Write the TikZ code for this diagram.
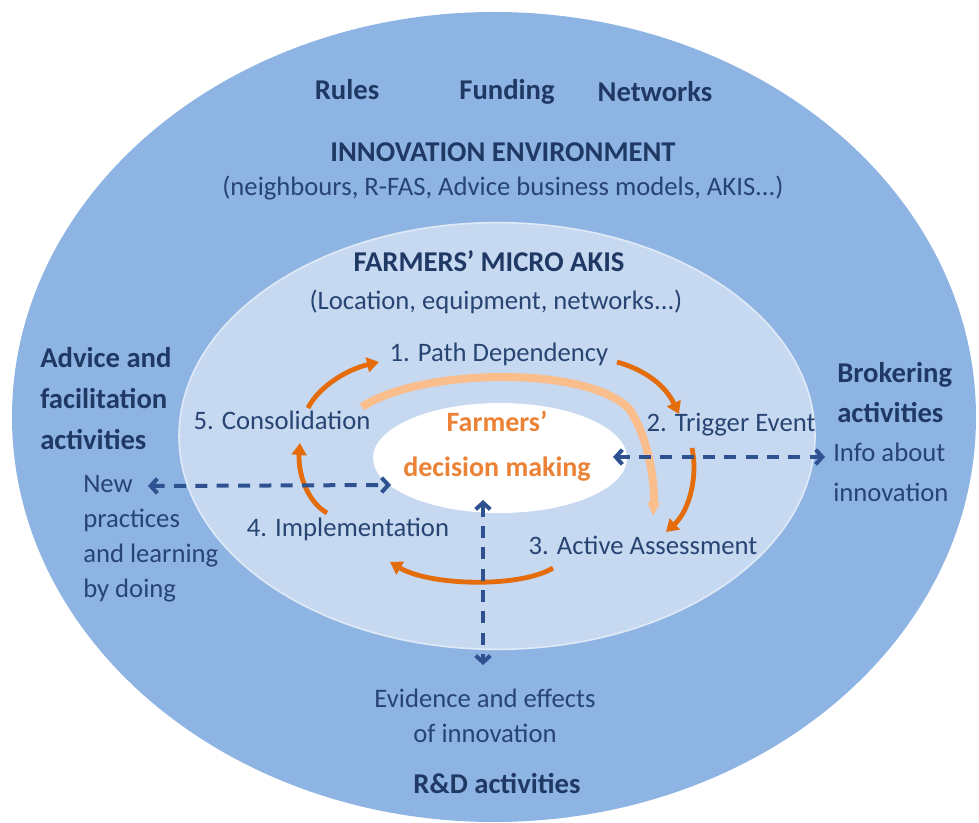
\documentclass[tikz,border=0pt]{standalone}
\usepackage{fontspec}
\setmainfont{Carlito}
\usetikzlibrary{shapes.geometric,arrows.meta}
\definecolor{outerblue}{HTML}{8EB4E3}
\definecolor{innerblue}{HTML}{C6D9F1}
\definecolor{txtbold}{HTML}{1F3864}
\definecolor{txtreg}{HTML}{274473}
\definecolor{dashblue}{HTML}{2E528F}
\definecolor{darkorange}{HTML}{E46C0A}
\definecolor{lightorange}{HTML}{F9BE8C}
\definecolor{orangetext}{HTML}{EC8236}
\tikzset{
  boldlbl/.style={inner sep=0pt, text=txtbold, font=\fontsize{21.5}{30.75}\selectfont\bfseries},
  reglbl/.style={inner sep=0pt, text=txtreg, font=\fontsize{20}{26.25}\selectfont},
  steplbl/.style={inner sep=0pt, text=txtreg, font=\fontsize{20}{26}\selectfont},
  cyclearrow/.style={draw=darkorange, line width=3.6pt, -{Triangle[length=9pt,width=11pt]}},
  bigarc/.style={draw=lightorange, line width=6pt, -{Triangle[length=10pt,width=9pt]}},
  dasharrow/.style={draw=dashblue, line width=3pt, dash pattern=on 9pt off 7pt,
     {Straight Barb[length=5pt,width=11pt]}-{Straight Barb[length=5pt,width=11pt]}},
}
\begin{document}
\begin{tikzpicture}[x=0.75pt, y=-0.75pt]
\useasboundingbox (0,0) rectangle (979,823);
% ellipses
\node[ellipse, fill=outerblue, inner sep=0pt, minimum width=723pt, minimum height=607.5pt] (outer) at (494,417) {};
\node[ellipse, fill=innerblue, draw=white!45!innerblue, line width=1.2pt, inner sep=0pt, minimum width=477pt, minimum height=320pt] (inner) at (497,436) {};
\node[ellipse, fill=white, inner sep=0pt, minimum width=190.5pt, minimum height=82.5pt] (core) at (500,458) {};

% top labels
\node[boldlbl, anchor=base] (rules) at (347,100) {Rules};
\node[boldlbl, anchor=base] (funding) at (507,100) {Funding};
\node[boldlbl, anchor=base] (networks) at (655,102) {Networks};
\node[boldlbl, anchor=base] (env) at (503,162) {INNOVATION ENVIRONMENT};
\node[reglbl, anchor=base] (envsub) at (503,196) {(neighbours, R-FAS, Advice business models, AKIS...)};
\node[boldlbl, anchor=base] (micro) at (489,272) {FARMERS’ MICRO AKIS};
\node[reglbl, anchor=base] (microsub) at (496,310) {(Location, equipment, networks...)};

% core text
\node[inner sep=0pt, text=orangetext, font=\fontsize{21}{33.75}\selectfont\bfseries, align=center, anchor=base] (dm) at (497,477) {Farmers’\\decision making};

% steps
\node[steplbl, anchor=base] (s1) at (499,362) {1. Path Dependency};
\node[steplbl, anchor=base] (s2) at (731,432) {2. Trigger Event};
\node[steplbl, anchor=base] (s3) at (643,555) {3. Active Assessment};
\node[steplbl, anchor=base] (s4) at (348,537) {4. Implementation};
\node[steplbl, anchor=base] (s5) at (282,430) {5. Consolidation};

% side labels (base anchor = baseline of the last line)
\node[boldlbl, align=left, anchor=base west] (advice) at (40,450) {Advice and\\facilitation\\activities};
\node[reglbl, align=left, anchor=base west] (newp) at (83,598) {New\\practices\\and learning\\by doing};
\node[boldlbl, align=left, anchor=base west, font=\fontsize{21.5}{30}\selectfont\bfseries] (broker) at (837,423) {Brokering\\activities};
\node[reglbl, align=left, anchor=base west, font=\fontsize{20}{30}\selectfont] (info) at (833,502) {Info about\\innovation};
\node[reglbl, align=center, anchor=base] (evid) at (485,742) {Evidence and effects\\of innovation};
\node[boldlbl, anchor=base] (rd) at (497,793) {R\&D activities};

% big light arc
\coordinate (la1) at (362,407);
\coordinate (la2) at (630,410);
\coordinate (la3) at (653,516);
\draw[bigarc] (la1) .. controls (420,368) and (590,365) .. (la2) .. controls (648,438) and (655,480) .. (la3);

% cycle arrows
\coordinate (c5a) at (308,408); \coordinate (c5b) at (379,362);
\coordinate (c1a) at (617,362); \coordinate (c1b) at (679,414);
\coordinate (c2a) at (692,448); \coordinate (c2b) at (666,532);
\coordinate (c3a) at (553,568); \coordinate (c3b) at (390,562);
\coordinate (c4a) at (327,513); \coordinate (c4b) at (300,443);
\draw[cyclearrow] (c5a) .. controls (318,388) and (345,370) .. (c5b);
\draw[cyclearrow] (c1a) .. controls (645,370) and (665,385) .. (c1b);
\draw[cyclearrow] (c2a) .. controls (698,475) and (690,510) .. (c2b);
\draw[cyclearrow] (c3a) .. controls (520,588) and (430,586) .. (c3b);
\draw[cyclearrow] (c4a) .. controls (305,500) and (298,470) .. (c4b);

% dashed arrows
\coordinate (dl1) at (148,486); \coordinate (dl2) at (391,485);
\coordinate (dr1) at (613,457); \coordinate (dr2) at (825,457);
\coordinate (dv1) at (483,500); \coordinate (dv2) at (483,665);
\draw[dasharrow] (dl1) -- (dl2);
\draw[dasharrow] (dr1) -- (dr2);
\draw[dasharrow] (dv1) -- (dv2);
\end{tikzpicture}
\end{document}
